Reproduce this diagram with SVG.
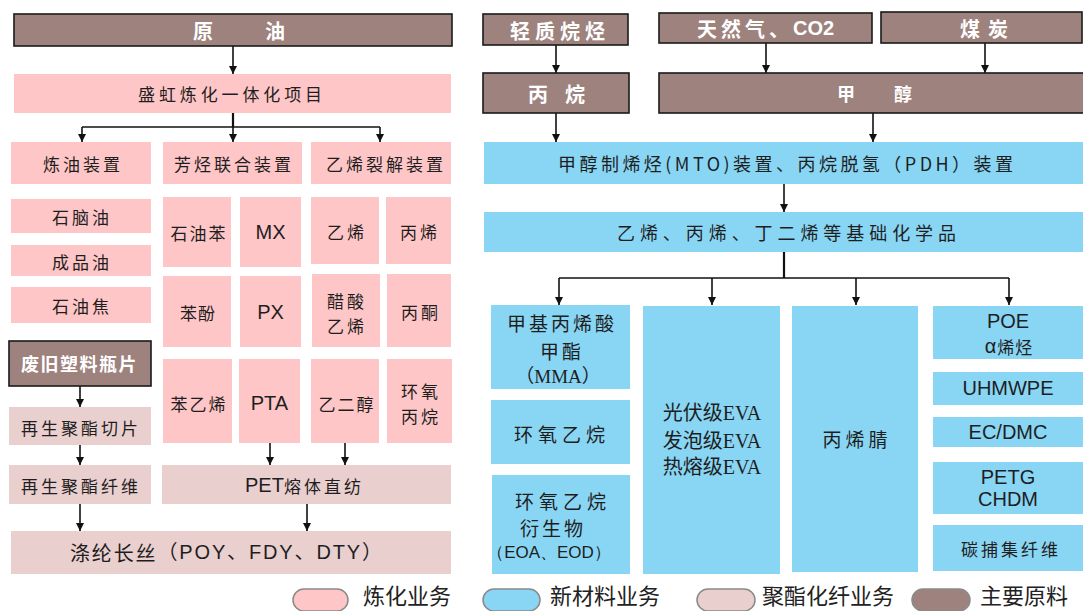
<svg xmlns="http://www.w3.org/2000/svg" width="1083" height="611" viewBox="0 0 1083 611">
<style>
.pk{fill:#FFC6C8}
.pg{fill:#EACFCF}
.bl{fill:#89D5F4}
.br{fill:#9E827E;stroke:#1a1a1a;stroke-width:1.6}
.t{font-family:"Noto Sans CJK SC",sans-serif;font-size:17px;fill:#1e1e1e;text-anchor:middle;dominant-baseline:central;letter-spacing:3px}
.ts{text-anchor:start}
.w{font-family:"Noto Sans CJK SC",sans-serif;font-size:20px;font-weight:bold;fill:#fff;dominant-baseline:central}
.a{font-family:"Liberation Sans",Arial,sans-serif;font-size:20px;fill:#1e1e1e;text-anchor:middle;dominant-baseline:central}
.s{font-family:"Liberation Serif","Noto Sans CJK SC",serif;font-size:20px;fill:#1e1e1e;text-anchor:middle;dominant-baseline:central}
.c{stroke:#111;stroke-width:1.6;fill:none}
.ct{stroke:#111;stroke-width:2.2;fill:none}
.lg{font-family:"Noto Sans CJK SC",sans-serif;font-size:22px;fill:#222}
.pill{stroke:#8a8a8a;stroke-width:1.5}
</style>
<defs>
<marker id="ah" markerUnits="userSpaceOnUse" markerWidth="9" markerHeight="9" refX="8" refY="4" orient="auto">
<path d="M0,0 L8,4 L0,8 z" fill="#111"/>
</marker>
</defs>
<rect width="1083" height="611" fill="#fff"/>

<g id="connectors">
<line class="c" x1="233" y1="46" x2="233" y2="74" marker-end="url(#ah)"/>
<line class="ct" x1="233" y1="113" x2="233" y2="127"/>
<line class="c" x1="82" y1="127" x2="380" y2="127"/>
<line class="c" x1="82" y1="127" x2="82" y2="142" marker-end="url(#ah)"/>
<line class="c" x1="233" y1="127" x2="233" y2="142" marker-end="url(#ah)"/>
<line class="c" x1="380" y1="127" x2="380" y2="142" marker-end="url(#ah)"/>
<line class="c" x1="80" y1="386" x2="80" y2="407" marker-end="url(#ah)"/>
<line class="c" x1="80" y1="445" x2="80" y2="465" marker-end="url(#ah)"/>
<line class="c" x1="270" y1="443" x2="270" y2="465" marker-end="url(#ah)"/>
<line class="c" x1="345" y1="443" x2="345" y2="465" marker-end="url(#ah)"/>
<line class="c" x1="80" y1="504" x2="80" y2="531" marker-end="url(#ah)"/>
<line class="c" x1="307" y1="504" x2="307" y2="531" marker-end="url(#ah)"/>
<line class="c" x1="556" y1="45" x2="556" y2="73" marker-end="url(#ah)"/>
<line class="c" x1="766" y1="43" x2="766" y2="73" marker-end="url(#ah)"/>
<line class="c" x1="985" y1="43" x2="985" y2="73" marker-end="url(#ah)"/>
<line class="c" x1="556" y1="113" x2="556" y2="142" marker-end="url(#ah)"/>
<line class="c" x1="873" y1="113" x2="873" y2="142" marker-end="url(#ah)"/>
<line class="c" x1="784" y1="184" x2="784" y2="212" marker-end="url(#ah)"/>
<line class="ct" x1="784" y1="252" x2="784" y2="278"/>
<line class="c" x1="559" y1="278" x2="1009" y2="278"/>
<line class="c" x1="559" y1="278" x2="559" y2="305" marker-end="url(#ah)"/>
<line class="c" x1="712" y1="278" x2="712" y2="305" marker-end="url(#ah)"/>
<line class="c" x1="856" y1="278" x2="856" y2="305" marker-end="url(#ah)"/>
<line class="c" x1="1009" y1="278" x2="1009" y2="305" marker-end="url(#ah)"/>
</g>

<g id="n-yuanyou"><rect class="br" x="14" y="14" width="438" height="32"/><text class="w" x="193" y="30" style="letter-spacing:16px">原　油</text></g>
<g id="n-shenghong"><rect class="pk" x="14" y="74" width="437" height="39"/><text class="t ts" x="138" y="93" textLength="184" style="letter-spacing:0">盛虹炼化一体化项目</text></g>
<g id="n-lianyou"><rect class="pk" x="11" y="142" width="140" height="42"/><text class="t" x="83" y="163">炼油装置</text></g>
<g id="n-fangting"><rect class="pk" x="163" y="142" width="139" height="42"/><text class="t" x="234" y="163">芳烃联合装置</text></g>
<g id="n-liejie"><rect class="pk" x="311" y="142" width="140" height="42"/><text class="t" x="386" y="163">乙烯裂解装置</text></g>
<g id="n-shinaoyou"><rect class="pk" x="11" y="199" width="140" height="34"/><text class="t" x="82" y="216">石脑油</text></g>
<g id="n-chengpinyou"><rect class="pk" x="11" y="245" width="140" height="31"/><text class="t" x="82" y="261">成品油</text></g>
<g id="n-shiyoujiao"><rect class="pk" x="11" y="287" width="140" height="36"/><text class="t" x="82" y="305">石油焦</text></g>
<g id="n-shiyouben"><rect class="pk" x="163" y="197" width="68" height="70"/><text class="t" x="199" y="232" style="letter-spacing:2px">石油苯</text></g>
<g id="n-mx"><rect class="pk" x="240" y="197" width="61" height="70"/><text class="a" x="270.5" y="232">MX</text></g>
<g id="n-yixi"><rect class="pk" x="311" y="197" width="68" height="67"/><text class="t" x="347" y="231">乙烯</text></g>
<g id="n-bingxi"><rect class="pk" x="386" y="197" width="65" height="67"/><text class="t" x="420" y="231">丙烯</text></g>
<g id="n-benfen"><rect class="pk" x="163" y="276" width="68" height="71"/><text class="t" x="198" y="312" style="letter-spacing:1px">苯酚</text></g>
<g id="n-px"><rect class="pk" x="240" y="276" width="61" height="71"/><text class="a" x="270.5" y="312">PX</text></g>
<g id="n-cusuan"><rect class="pk" x="312" y="274" width="68" height="73"/><text class="t" x="347" y="300">醋酸</text><text class="t" x="347" y="325">乙烯</text></g>
<g id="n-bingtong"><rect class="pk" x="387" y="274" width="64" height="73"/><text class="t" x="421" y="311">丙酮</text></g>
<g id="n-benyixi"><rect class="pk" x="163" y="359" width="69" height="84"/><text class="t" x="199" y="403" style="letter-spacing:2px">苯乙烯</text></g>
<g id="n-pta"><rect class="pk" x="239" y="359" width="61" height="84"/><text class="a" x="269.5" y="403">PTA</text></g>
<g id="n-yierchun"><rect class="pk" x="311" y="359" width="68" height="84"/><text class="t" x="347" y="403" style="letter-spacing:2px">乙二醇</text></g>
<g id="n-huanyang"><rect class="pk" x="387" y="359" width="65" height="84"/><text class="t" x="421" y="390">环氧</text><text class="t" x="421" y="415">丙烷</text></g>
<g id="n-feijiu"><rect class="br" x="9" y="341" width="142" height="45"/><text class="w" x="21" y="363" style="font-size:18px;letter-spacing:1.5px">废旧塑料瓶片</text></g>
<g id="n-zaisheng-qp"><rect class="pg" x="9" y="407" width="142" height="38"/><text class="t" x="81" y="427">再生聚酯切片</text></g>
<g id="n-zaisheng-xw"><rect class="pg" x="9" y="465" width="142" height="39"/><text class="t" x="81" y="485">再生聚酯纤维</text></g>
<g id="n-pet"><rect class="pg" x="162" y="465" width="289" height="39"/><text class="t ts" x="245" y="485" style="letter-spacing:3px"><tspan font-family="Liberation Sans, Arial, sans-serif" font-size="20" letter-spacing="0">PET</tspan>熔体直纺</text></g>
<g id="n-dilun"><rect class="pg" x="11" y="531" width="440" height="43"/><text class="t ts" x="70" y="552" textLength="312" style="letter-spacing:0;font-size:20px">涤纶长丝<tspan font-family="Liberation Sans, Noto Sans CJK SC, sans-serif">（POY、FDY、DTY）</tspan></text></g>

<g id="n-qingzhi"><rect class="br" x="483" y="14" width="145" height="31"/><text class="w" x="510" y="30" style="letter-spacing:5px">轻质烷烃</text></g>
<g id="n-tianranqi"><rect class="br" x="659" y="13" width="213" height="30"/><text class="w" x="697" y="28" style="letter-spacing:4px">天然气、<tspan font-family="Liberation Sans, Arial, sans-serif" letter-spacing="0">CO2</tspan></text></g>
<g id="n-meitan"><rect class="br" x="881" y="12" width="201" height="31"/><text class="w" x="960" y="28" style="letter-spacing:8px">煤炭</text></g>
<g id="n-bingwan"><rect class="br" x="483" y="73" width="146" height="40"/><text class="w" x="528" y="93" style="letter-spacing:17px">丙烷</text></g>
<g id="n-jiachun"><rect class="br" x="659" y="73" width="425" height="40"/><text class="w" x="837" y="93" style="font-size:18px;letter-spacing:39px">甲醇</text></g>
<g id="n-mto"><rect class="bl" x="484" y="142" width="599" height="42"/><text class="t ts" x="558" y="163" textLength="455" style="letter-spacing:0;font-size:18px">甲醇制烯烃(MTO)装置、丙烷脱氢（PDH）装置</text></g>
<g id="n-jichu"><rect class="bl" x="484" y="212" width="599" height="40"/><text class="t ts" x="617" y="232" textLength="339" style="letter-spacing:0;font-size:18px">乙烯、丙烯、丁二烯等基础化学品</text></g>
<g id="n-mma"><rect class="bl" x="491" y="305" width="139" height="84"/><text class="t" x="562" y="322" style="font-size:19px;letter-spacing:3px">甲基丙烯酸</text><text class="t" x="562" y="350" style="font-size:19px">甲酯</text><text class="s" x="558" y="376" style="font-size:19px">（MMA）</text></g>
<g id="n-hyyw"><rect class="bl" x="491" y="400" width="139" height="64"/><text class="t" x="562" y="433" style="font-size:19px;letter-spacing:5px">环氧乙烷</text></g>
<g id="n-hyyw-ysw"><rect class="bl" x="492" y="475" width="138" height="99"/><text class="t" x="563" y="500" style="font-size:19px;letter-spacing:5px">环氧乙烷</text><text class="t" x="553" y="527" style="font-size:19px;letter-spacing:3px">衍生物</text><text class="a" x="549" y="552" style="font-size:17px">（EOA、EOD）</text></g>
<g id="n-eva"><rect class="bl" x="643" y="306" width="137" height="268"/><text class="s" x="712" y="413">光伏级EVA</text><text class="s" x="712" y="441">发泡级EVA</text><text class="s" x="712" y="467">热熔级EVA</text></g>
<g id="n-bxj"><rect class="bl" x="792" y="306" width="126" height="266"/><text class="t" x="857" y="438" style="font-size:19px;letter-spacing:4px">丙烯腈</text></g>
<g id="n-poe"><rect class="bl" x="933" y="306" width="150" height="53"/><text class="a" x="1008" y="321">POE</text><text class="t" x="1009" y="346" style="letter-spacing:1px"><tspan font-family="Liberation Sans, sans-serif" font-size="20">α</tspan>烯烃</text></g>
<g id="n-uhmwpe"><rect class="bl" x="933" y="372" width="150" height="33"/><text class="a" x="1008" y="388">UHMWPE</text></g>
<g id="n-ecdmc"><rect class="bl" x="933" y="417" width="150" height="30"/><text class="a" x="1008" y="432">EC/DMC</text></g>
<g id="n-petg"><rect class="bl" x="933" y="462" width="150" height="52"/><text class="a" x="1008" y="477">PETG</text><text class="a" x="1008" y="499">CHDM</text></g>
<g id="n-tbj"><rect class="bl" x="933" y="525" width="150" height="46"/><text class="t" x="1011" y="548" style="letter-spacing:3px">碳捕集纤维</text></g>

<g id="legend">
<rect class="pill" x="293" y="589" width="55" height="22" rx="11" fill="#FFC6C8"/>
<text class="lg" x="363" y="604">炼化业务</text>
<rect class="pill" x="483" y="589" width="57" height="22" rx="11" fill="#89D5F4" stroke="#4f8fb0"/>
<text class="lg" x="550" y="604">新材料业务</text>
<rect class="pill" x="697" y="589" width="58" height="22" rx="11" fill="#EACFCF"/>
<text class="lg" x="762" y="604">聚酯化纤业务</text>
<rect class="pill" x="912" y="589" width="58" height="22" rx="11" fill="#9E827E" stroke="#6a5a58"/>
<text class="lg" x="980" y="604">主要原料</text>
</g>
</svg>
